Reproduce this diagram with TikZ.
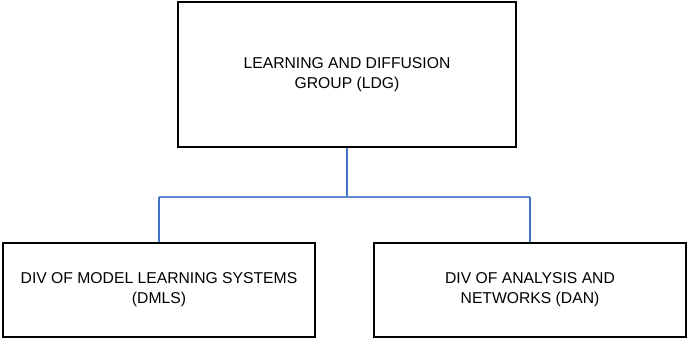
\documentclass[tikz,border=0pt]{standalone}
\usepackage{fontspec}
\setmainfont{Liberation Sans}
\usepackage{xcolor}
\usetikzlibrary{positioning,calc}
\definecolor{linkblue}{RGB}{68,114,196}
\tikzset{
  orgbox/.style={draw, line width=2.8pt, align=center, inner sep=3pt, font=\fontsize{15.7}{20}\selectfont},
  orgstem/.style={draw=linkblue, line width=2.4pt},
  orgbar/.style={draw=linkblue!85, line width=1.1pt}
}

\begin{document}
\begin{tikzpicture}[x=1pt,y=-1pt]
\useasboundingbox (0,0) rectangle (688,340);
\node[orgbox, minimum width=338pt, minimum height=145pt] (ldg) at (347,74.5) {LEARNING AND DIFFUSION\\GROUP (LDG)};
\node[orgbox, minimum width=312pt, minimum height=94pt] (dmls) at (159,290) {DIV OF MODEL LEARNING SYSTEMS\\(DMLS)};
\node[orgbox, minimum width=312pt, minimum height=94pt] (dan) at (530,290) {DIV OF ANALYSIS AND\\NETWORKS (DAN)};
\coordinate (joint) at (347,197);
\draw[orgstem] (ldg.south) -- (joint);
\draw[orgbar] (dmls.north |- joint) -- (dan.north |- joint);
\draw[orgstem] (dmls.north |- joint) -- (dmls.north);
\draw[orgstem] (dan.north |- joint) -- (dan.north);
\end{tikzpicture}
\end{document}
